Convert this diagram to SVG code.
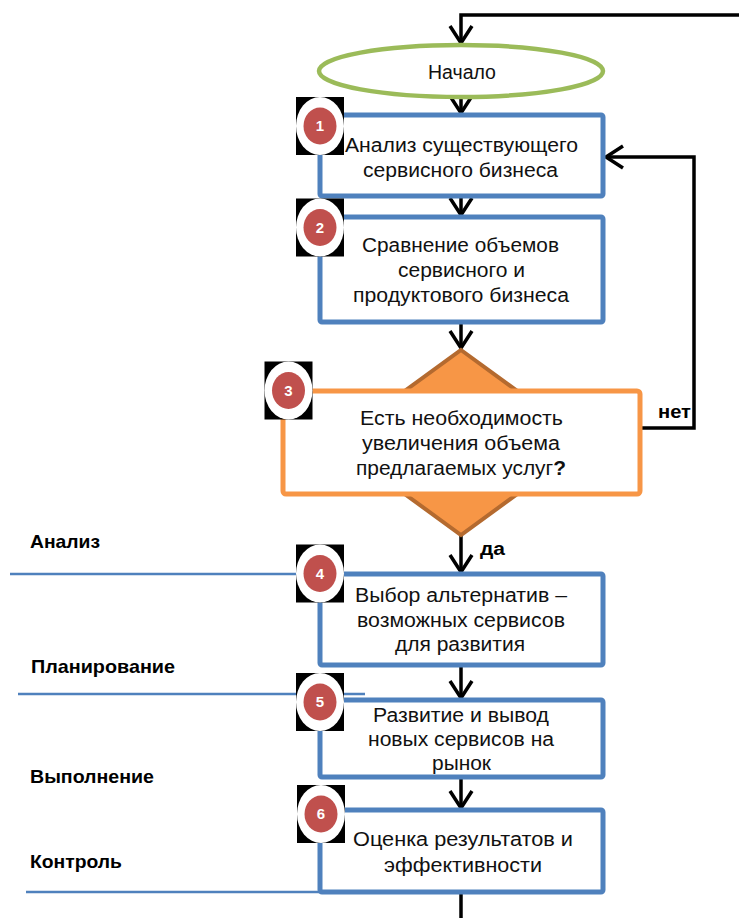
<svg xmlns="http://www.w3.org/2000/svg" width="739" height="918" viewBox="0 0 739 918">
<style>
.box{fill:#fff;stroke:#4F81BD;stroke-width:5}
.t{font-family:"Liberation Sans",Arial,sans-serif;font-size:19.5px;fill:#111;text-anchor:middle}
.lane{font-family:"Liberation Sans",Arial,sans-serif;font-size:19px;font-weight:bold;fill:#000}
.lbl{font-family:"Liberation Sans",Arial,sans-serif;font-size:18px;font-weight:bold;fill:#000}
.num{font-family:"Liberation Sans",Arial,sans-serif;font-size:15px;font-weight:bold;fill:#fff;text-anchor:middle}
.conn{fill:none;stroke:#000;stroke-width:3.5}
.ll{stroke:#4F81BD;stroke-width:2.5}
</style>
<defs>
<marker id="arr" markerUnits="userSpaceOnUse" markerWidth="26" markerHeight="30" viewBox="-22 -15 26 30" refX="0" refY="0" orient="auto">
<path d="M-17,-11 L0,0 L-17,11" fill="none" stroke="#000" stroke-width="3.5"/>
</marker>
<g id="badge">
<rect x="-24" y="-29" width="48" height="58" fill="#000"/>
<ellipse cx="0" cy="0" rx="24" ry="29" fill="#fff"/>
<ellipse cx="0" cy="0" rx="16.5" ry="18.5" fill="#C0504D"/>
</g>
</defs>

<g id="lanes">
<line class="ll" x1="10" y1="574" x2="320" y2="574"/>
<line class="ll" x1="18" y1="694" x2="365" y2="694"/>
<line class="ll" x1="26" y1="892" x2="320" y2="892"/>
<text class="lane" x="30" y="548" textLength="70" lengthAdjust="spacingAndGlyphs">Анализ</text>
<text class="lane" x="31" y="673" textLength="144" lengthAdjust="spacingAndGlyphs">Планирование</text>
<text class="lane" x="30" y="783" textLength="124" lengthAdjust="spacingAndGlyphs">Выполнение</text>
<text class="lane" x="30" y="868" textLength="92" lengthAdjust="spacingAndGlyphs">Контроль</text>
</g>

<g id="connectors">
<path class="conn" d="M739,15 H461 V43" marker-end="url(#arr)"/>
<path class="conn" d="M461,97 V113" marker-end="url(#arr)"/>
<path class="conn" d="M461,196 V215" marker-end="url(#arr)"/>
<path class="conn" d="M461,322 V348" marker-end="url(#arr)"/>
<path class="conn" d="M461,535 V572" marker-end="url(#arr)"/>
<path class="conn" d="M461,665 V698" marker-end="url(#arr)"/>
<path class="conn" d="M461,777 V808" marker-end="url(#arr)"/>
<path class="conn" d="M461,892 V918"/>
<path class="conn" d="M640,428 H694 V157 H606" marker-end="url(#arr)"/>
<text class="lbl" x="658" y="418" textLength="33" lengthAdjust="spacingAndGlyphs">нет</text>
<text class="lbl" x="480" y="555" textLength="25" lengthAdjust="spacingAndGlyphs">да</text>
</g>

<g id="start">
<ellipse cx="461" cy="71" rx="142" ry="26" fill="#fff" stroke="#9BBB59" stroke-width="4.5"/>
<text class="t" x="462" y="79">Начало</text>
</g>

<g id="step1">
<rect class="box" x="320" y="115" width="283" height="81" rx="2"/>
<text class="t" x="461.5" y="152" textLength="233" lengthAdjust="spacingAndGlyphs">Анализ существующего</text>
<text class="t" x="460.5" y="177" textLength="195" lengthAdjust="spacingAndGlyphs">сервисного бизнеса</text>
<use href="#badge" x="320" y="126"/>
<text class="num" x="320" y="131">1</text>
</g>

<g id="step2">
<rect class="box" x="320" y="217" width="283" height="105" rx="2"/>
<text class="t" x="460.5" y="252" textLength="197" lengthAdjust="spacingAndGlyphs">Сравнение объемов</text>
<text class="t" x="461.5" y="277" textLength="127" lengthAdjust="spacingAndGlyphs">сервисного и</text>
<text class="t" x="461" y="302" textLength="216" lengthAdjust="spacingAndGlyphs">продуктового бизнеса</text>
<use href="#badge" x="320" y="227.5"/>
<text class="num" x="320" y="232.5">2</text>
</g>

<g id="step3">
<polygon points="461,350 588,442.5 461,535 334,442.5" fill="#F79646" stroke="#B46A2F" stroke-width="4"/>
<rect x="283" y="391" width="357" height="103" rx="3" fill="#fff" stroke="#F79646" stroke-width="5"/>
<text class="t" x="461.5" y="425" textLength="203" lengthAdjust="spacingAndGlyphs">Есть необходимость</text>
<text class="t" x="461" y="450" textLength="198" lengthAdjust="spacingAndGlyphs">увеличения объема</text>
<text class="t" x="461" y="475" textLength="210" lengthAdjust="spacingAndGlyphs">предлагаемых услуг<tspan font-weight="bold">?</tspan></text>
<use href="#badge" x="288.5" y="390.5"/>
<text class="num" x="288.5" y="395.5">3</text>
</g>

<g id="step4">
<rect class="box" x="320" y="574" width="283" height="91" rx="2"/>
<text class="t" x="461" y="602" textLength="212" lengthAdjust="spacingAndGlyphs">Выбор альтернатив –</text>
<text class="t" x="461" y="627" textLength="208" lengthAdjust="spacingAndGlyphs">возможных сервисов</text>
<text class="t" x="460" y="651" textLength="130" lengthAdjust="spacingAndGlyphs">для развития</text>
<use href="#badge" x="320" y="573.5"/>
<text class="num" x="320" y="578.5">4</text>
</g>

<g id="step5">
<rect class="box" x="320" y="700" width="283" height="77" rx="2"/>
<text class="t" x="461" y="722" textLength="176" lengthAdjust="spacingAndGlyphs">Развитие и вывод</text>
<text class="t" x="461" y="746" textLength="186" lengthAdjust="spacingAndGlyphs">новых сервисов на</text>
<text class="t" x="461.5" y="770" textLength="59" lengthAdjust="spacingAndGlyphs">рынок</text>
<use href="#badge" x="320" y="702"/>
<text class="num" x="320" y="707">5</text>
</g>

<g id="step6">
<rect class="box" x="320" y="810" width="283" height="82" rx="2"/>
<text class="t" x="463" y="846" textLength="220" lengthAdjust="spacingAndGlyphs">Оценка результатов и</text>
<text class="t" x="463" y="872" textLength="158" lengthAdjust="spacingAndGlyphs">эффективности</text>
<use href="#badge" x="321" y="814"/>
<text class="num" x="321" y="819">6</text>
</g>
</svg>
